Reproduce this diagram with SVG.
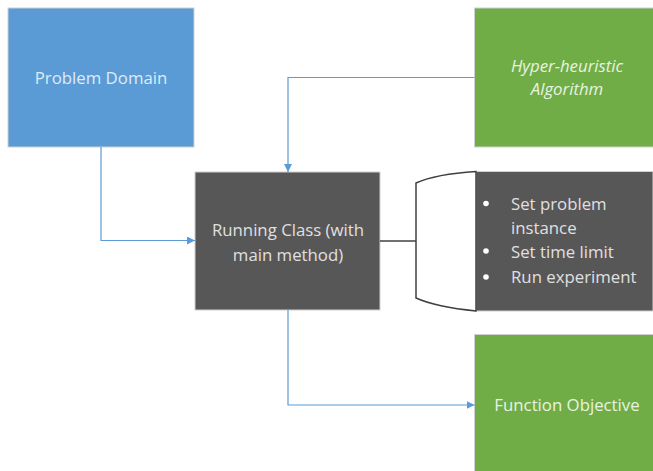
<svg xmlns="http://www.w3.org/2000/svg" width="653" height="471" viewBox="0 0 653 471">
  <defs>
    <marker id="arrow" viewBox="0 0 10 10" refX="10" refY="5" markerWidth="8" markerHeight="8" markerUnits="userSpaceOnUse" orient="auto">
      <path d="M0,0 L10,5 L0,10 z" fill="#5B9BD5"/>
    </marker>
  </defs>
  <style>
    .box { stroke: #d0d0d0; stroke-width: 1; }
    .blue { fill: #5B9BD5; }
    .green { fill: #70AD47; }
    .dark { fill: #575757; }
    .label { font-family: "Open Sans", "Liberation Sans", sans-serif; font-size: 16.8px; }
    .lb { fill: #DDEBF7; }
    .lg { fill: #E8F3E0; }
    .ld { fill: #E0E0E0; }
    .conn { fill: none; stroke: #5B9BD5; stroke-width: 1.2; }
  </style>
  <rect width="653" height="471" fill="#ffffff"/>

  <g id="problem-domain">
    <rect class="box blue" x="8" y="8" width="186" height="139"/>
    <text class="label lb" x="101" y="84" text-anchor="middle">Problem Domain</text>
  </g>

  <g id="hyper-heuristic">
    <rect class="box green" x="474.5" y="8" width="180" height="139"/>
    <text class="label lg" x="567" y="72" text-anchor="middle" font-style="italic">Hyper-heuristic</text>
    <text class="label lg" x="567" y="95" text-anchor="middle" font-style="italic">Algorithm</text>
  </g>

  <g id="running-class">
    <rect class="box dark" x="195" y="172" width="185" height="138"/>
    <text class="label ld" x="288" y="236" text-anchor="middle">Running Class (with</text>
    <text class="label ld" x="288" y="261" text-anchor="middle">main method)</text>
  </g>

  <g id="tasks">
    <rect class="box dark" x="476" y="171.5" width="177" height="139.5"/>
    <path d="M476,171.5 Q436,174 416,183 L416,298 Q436,307 476,311 Z" fill="#ffffff" stroke="#404040" stroke-width="1.5"/>
    <g class="label ld">
      <circle cx="486" cy="203.5" r="2.8" fill="#ffffff"/>
      <circle cx="486" cy="251" r="2.8" fill="#ffffff"/>
      <circle cx="486" cy="277" r="2.8" fill="#ffffff"/>
      <text x="511" y="210">Set problem</text>
      <text x="511" y="234">instance</text>
      <text x="511" y="258">Set time limit</text>
      <text x="511" y="283">Run experiment</text>
    </g>
  </g>

  <g id="function-objective">
    <rect class="box green" x="474.5" y="334.5" width="180" height="140"/>
    <text class="label lg" x="567" y="411" text-anchor="middle">Function Objective</text>
  </g>

  <g id="connectors">
    <path class="conn" d="M101,147 L101,240.5 L195,240.5" marker-end="url(#arrow)"/>
    <path class="conn" d="M474.5,77.5 L288,77.5 L288,172" marker-end="url(#arrow)"/>
    <path class="conn" d="M288,310 L288,405 L474.5,405" marker-end="url(#arrow)"/>
    <path d="M380,241 L416,241" fill="none" stroke="#404040" stroke-width="1.5"/>
  </g>
</svg>
